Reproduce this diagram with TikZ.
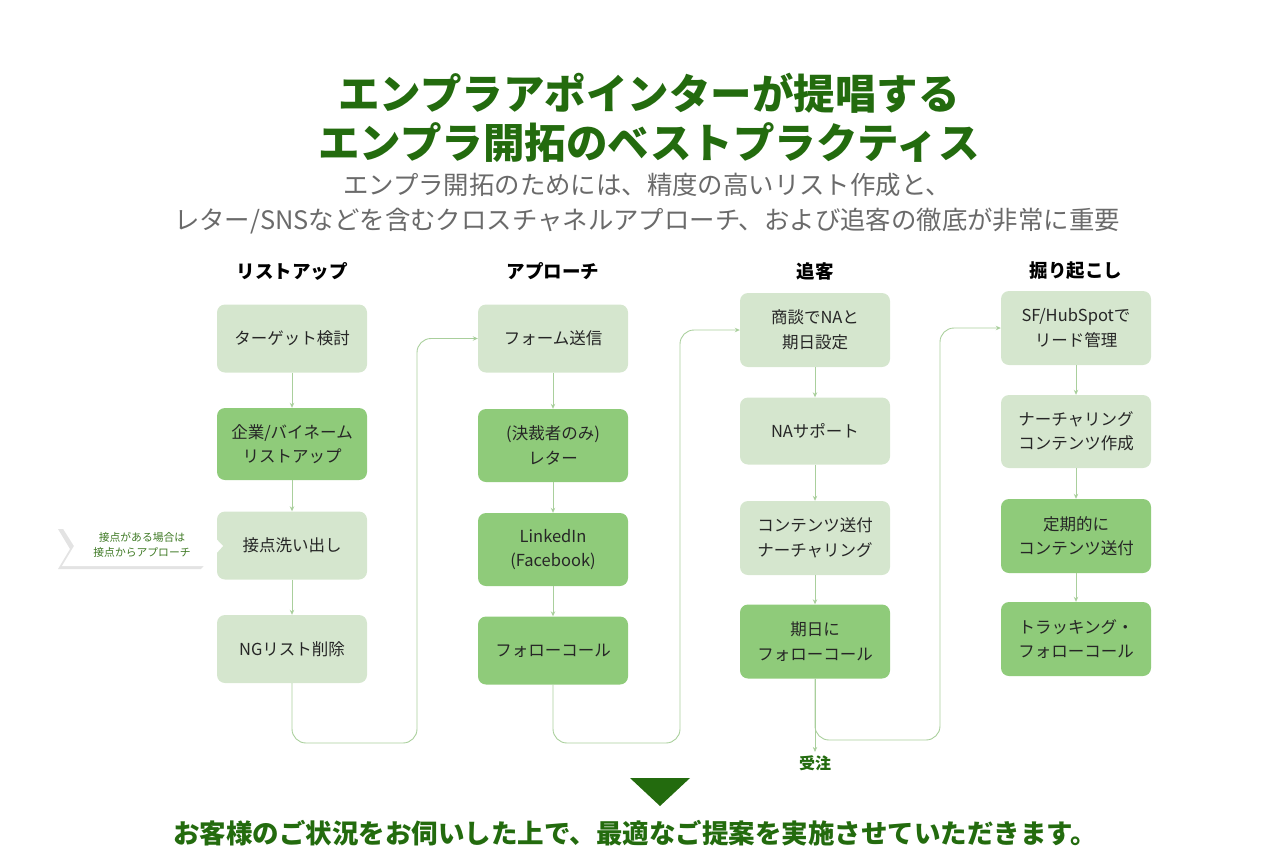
\documentclass[tikz,border=0pt]{standalone}
\usepackage{fontspec}
\setmainfont{Noto Sans CJK JP}
\usetikzlibrary{arrows.meta}
\definecolor{lightbox}{HTML}{D5E6CE}
\definecolor{midbox}{HTML}{8FCB7A}
\definecolor{connc}{HTML}{A9CF9C}
\definecolor{titlegreen}{HTML}{236B0E}
\definecolor{subgray}{HTML}{6A6A6A}
\definecolor{taggreen}{HTML}{3F7A25}
\definecolor{tagshadow}{HTML}{E3E3E3}
\tikzset{
  boxbase/.style={rounded corners=8pt, minimum width=150pt, align=center,
    font=\fontsize{16.5}{24.5}\selectfont, text=black!85, inner sep=0pt},
  lbox/.style={boxbase, fill=lightbox},
  mbox/.style={boxbase, fill=midbox},
  conn/.style={draw=connc, line width=0.9pt, -{Stealth[length=5pt,width=4.5pt]}},
  loop/.style={conn, rounded corners=14pt},
  head/.style={font=\fontsize{18.5}{22}\selectfont\bfseries, text=black},
}
\begin{document}
\begin{tikzpicture}[x=1pt,y=-1pt]
\useasboundingbox (0,0) rectangle (1269,855);
% titles
\node[text=titlegreen, align=center, font=\fontsize{41.5}{49}\selectfont\bfseries] (title) at (649,118)
  {エンプラアポインターが提唱する\\エンプラ開拓のベストプラクティス};
\node[text=subgray, align=center, font=\fontsize{25.4}{35}\selectfont] (sub) at (647,204)
  {エンプラ開拓のためには、精度の高いリスト作成と、\\レター/SNSなどを含むクロスチャネルアプローチ、および追客の徹底が非常に重要};
% headers
\node[head] (h1) at (292,271) {リストアップ};
\node[head] (h2) at (553,271) {アプローチ};
\node[head] (h3) at (815,271) {追客};
\node[head] (h4) at (1076,271) {掘り起こし};
% tag shadow
\fill[tagshadow] (58,529) -- (201,529) -- (219,549) -- (201,569) -- (58,569) -- (70,549) -- cycle;
% column 1
\node[lbox, minimum height=68pt] (c1a) at (292,338.5) {ターゲット検討};
\node[mbox, minimum height=72pt] (c1b) at (292,444) {企業/バイネーム\\リストアップ};
\node[lbox, minimum height=68pt] (c1c) at (292,545.5) {接点洗い出し};
\node[lbox, minimum height=68pt] (c1d) at (292,649) {NGリスト削除};
% column 2
\node[lbox, minimum height=68pt] (c2a) at (553,338.5) {フォーム送信};
\node[mbox, minimum height=73pt] (c2b) at (553,445.5) {(決裁者のみ)\\レター};
\node[mbox, minimum height=73pt] (c2c) at (553,549.5) {LinkedIn\\(Facebook)};
\node[mbox, minimum height=68pt] (c2d) at (553,650.5) {フォローコール};
% column 3
\node[lbox, minimum height=74pt] (c3a) at (815,330) {商談でNAと\\期日設定};
\node[lbox, minimum height=67pt] (c3b) at (815,431) {NAサポート};
\node[lbox, minimum height=74pt] (c3c) at (815,538) {コンテンツ送付\\ナーチャリング};
\node[mbox, minimum height=74pt] (c3d) at (815,641.5) {期日に\\フォローコール};
% column 4
\node[lbox, minimum height=74pt] (c4a) at (1076,328) {SF/HubSpotで\\リード管理};
\node[lbox, minimum height=73pt] (c4b) at (1076,431.5) {ナーチャリング\\コンテンツ作成};
\node[mbox, minimum height=74pt] (c4c) at (1076,536) {定期的に\\コンテンツ送付};
\node[mbox, minimum height=74pt] (c4d) at (1076,639) {トラッキング・\\フォローコール};
% tag
\fill[white] (62,527) -- (205,527) -- (223,546) -- (205,566) -- (62,566) -- (74,546) -- cycle;
\node[text=taggreen, align=center, font=\fontsize{10.8}{15.5}\selectfont] (tag) at (142,545)
  {接点がある場合は\\接点からアプローチ};
% vertical connectors
\draw[conn] (c1a) -- (c1b);
\draw[conn] (c1b) -- (c1c);
\draw[conn] (c1c) -- (c1d);
\draw[conn] (c2a) -- (c2b);
\draw[conn] (c2b) -- (c2c);
\draw[conn] (c2c) -- (c2d);
\draw[conn] (c3a) -- (c3b);
\draw[conn] (c3b) -- (c3c);
\draw[conn] (c3c) -- (c3d);
\draw[conn] (c4a) -- (c4b);
\draw[conn] (c4b) -- (c4c);
\draw[conn] (c4c) -- (c4d);
% loops
\coordinate (l1) at (417,743);
\coordinate (l2) at (680,743);
\coordinate (l3) at (940,740);
\draw[loop] (c1d.south) |- (l1) |- (c2a.west);
\draw[loop] (c2d.south) |- (l2) |- (c3a.west);
\draw[loop] (c3d.south) |- (l3) |- (c4a.west);
% order
\node[text=titlegreen, font=\fontsize{16}{20}\selectfont\bfseries] (juchu) at (815,763) {受注};
\draw[conn] (c3d.south) -- (juchu.north);
% bottom
\fill[titlegreen] (630,778) -- (690,778) -- (660,806) -- cycle;
\node[text=titlegreen, font=\fontsize{26.5}{30}\selectfont\bfseries] (closing) at (635,833)
  {お客様のご状況をお伺いした上で、最適なご提案を実施させていただきます。};
\end{tikzpicture}
\end{document}
